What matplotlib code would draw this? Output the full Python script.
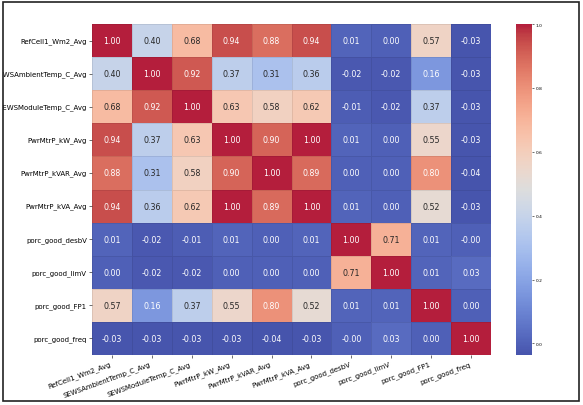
import numpy as np
import matplotlib
matplotlib.use("Agg")
import matplotlib.pyplot as plt
import matplotlib.patches as mpatches
from matplotlib.colors import ListedColormap, rgb_to_hsv, hsv_to_rgb
import seaborn as sns

# variable names (rows / columns of the correlation matrix)
labels = [
    "RefCell1_Wm2_Avg", "SEWSAmbientTemp_C_Avg", "SEWSModuleTemp_C_Avg",
    "PwrMtrP_kW_Avg", "PwrMtrP_kVAR_Avg", "PwrMtrP_kVA_Avg",
    "porc_good_desbV", "porc_good_limV", "porc_good_FP1", "porc_good_freq",
]

# correlation values, one list per row
r_refcell = [1.00, 0.40, 0.68, 0.94, 0.88, 0.94, 0.01, 0.00, 0.57, -0.03]
r_ambient = [0.40, 1.00, 0.92, 0.37, 0.31, 0.36, -0.02, -0.02, 0.16, -0.03]
r_module = [0.68, 0.92, 1.00, 0.63, 0.58, 0.62, -0.01, -0.02, 0.37, -0.03]
r_kw = [0.94, 0.37, 0.63, 1.00, 0.90, 1.00, 0.01, 0.00, 0.55, -0.03]
r_kvar = [0.88, 0.31, 0.58, 0.90, 1.00, 0.89, 0.00, 0.00, 0.80, -0.036]
r_kva = [0.94, 0.36, 0.62, 1.00, 0.89, 1.00, 0.01, 0.00, 0.52, -0.03]
r_desbv = [0.01, -0.02, -0.01, 0.01, 0.00, 0.01, 1.00, 0.71, 0.01, -0.001]
r_limv = [0.00, -0.02, -0.02, 0.00, 0.00, 0.00, 0.71, 1.00, 0.01, 0.03]
r_fp1 = [0.57, 0.16, 0.37, 0.55, 0.80, 0.52, 0.01, 0.01, 1.00, 0.00]
r_freq = [-0.03, -0.03, -0.03, -0.03, -0.036, -0.03, -0.001, 0.03, 0.00, 1.00]

corr = np.array([r_refcell, r_ambient, r_module, r_kw, r_kvar,
                 r_kva, r_desbv, r_limv, r_fp1, r_freq])

# coolwarm, a bit washed out like the reference screenshot
base = plt.get_cmap("coolwarm")(np.linspace(0, 1, 256))[:, :3]
hsv = rgb_to_hsv(base)
hsv[:, 1] *= 0.85
blueness = np.clip(base[:, 2] - base[:, 0], 0, 1)
hsv[:, 2] *= 1 - 0.2 * blueness
cmap = ListedColormap(hsv_to_rgb(hsv))

W, H = 583, 406
fig = plt.figure(figsize=(W / 100, H / 100), dpi=100)
ax = fig.add_axes([92 / W, 1 - 356 / H, 399 / W, 331 / H])
cax = fig.add_axes([516 / W, 1 - 356 / H, 16 / W, 331 / H])

sns.heatmap(corr, ax=ax, cbar_ax=cax, cmap=cmap,
            annot=True, fmt=".2f", annot_kws={"fontsize": 5.7},
            linewidths=0.4, linecolor=(0, 0, 0, 0.08),
            xticklabels=labels, yticklabels=labels)

ax.set_xticklabels(labels, rotation=20, ha="right", fontsize=5)
ax.set_yticklabels(labels, rotation=0, fontsize=5)
ax.tick_params(length=2.2, width=0.5, pad=1.5, color="#333333")

cax.set_yticks([0.0, 0.2, 0.4, 0.6, 0.8, 1.0])
cax.tick_params(labelsize=3.2, length=1.5, width=0.4, pad=1)
cax.set_yticklabels(["0.0", "0.2", "0.4", "0.6", "0.8", "1.0"])
for s in cax.spines.values():
    s.set_visible(False)

# screenshot-style frame around the figure
fig.patches.append(mpatches.Rectangle((0, 0), 1, 1, transform=fig.transFigure,
                                      fill=False, edgecolor="white", linewidth=4.5,
                                      zorder=10))
fig.patches.append(mpatches.Rectangle((3.3 / W, 4 / H), 576 / W, 399 / H,
                                      transform=fig.transFigure, fill=False,
                                      edgecolor="#222222", linewidth=1.2, zorder=11))

fig.savefig("out.png", dpi=100, facecolor="white")
